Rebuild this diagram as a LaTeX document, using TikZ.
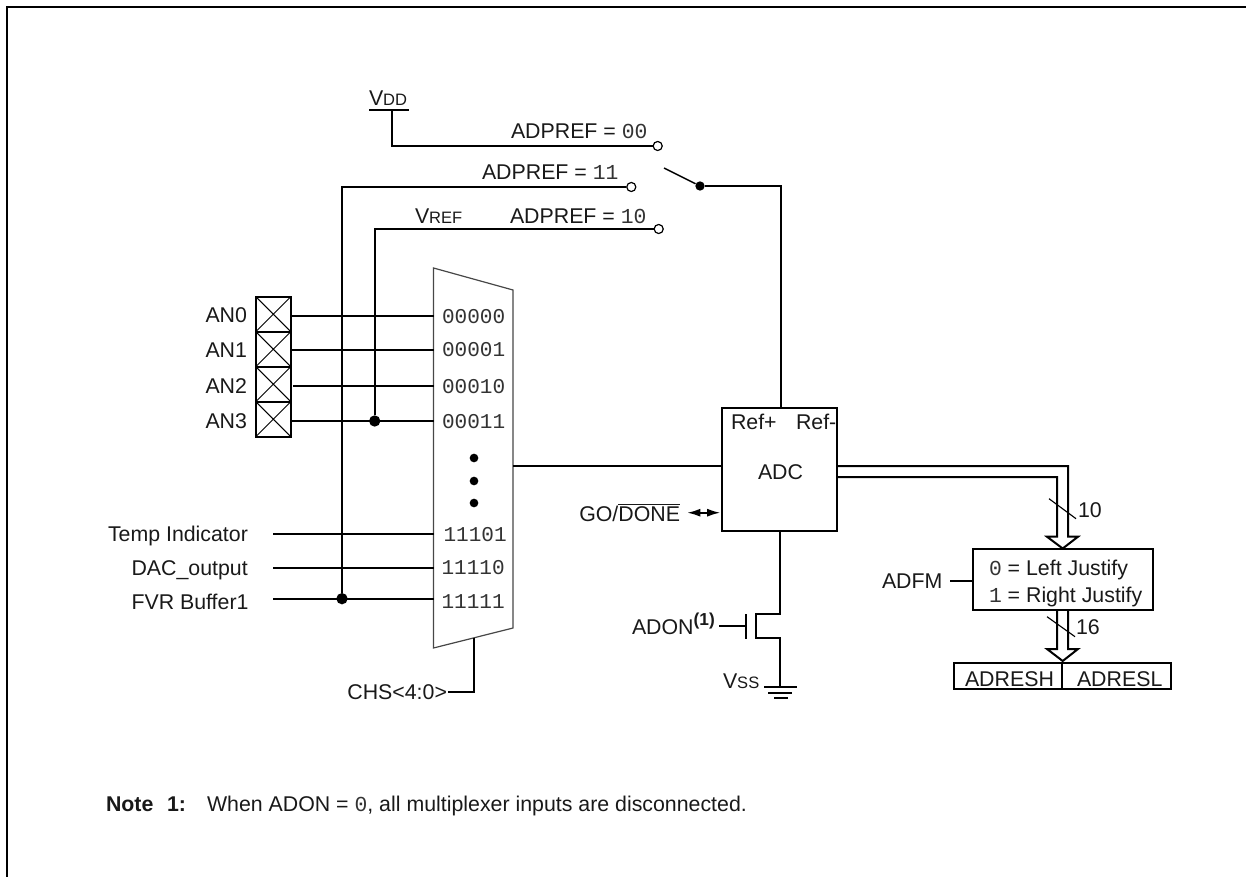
\documentclass[tikz,border=0pt]{standalone}
\usepackage{fontspec}
\setmainfont{Liberation Sans}
\newfontfamily\monoA{Liberation Mono}
\usetikzlibrary{arrows.meta}
\definecolor{muxgray}{gray}{0.28}
\definecolor{monogray}{gray}{0.2}
\tikzset{
  wire/.style={line width=1.5pt,line join=miter},
  thinw/.style={line width=0.75pt},
  lbl/.style={anchor=base west,inner sep=0pt,outer sep=0pt,yshift=-0.75pt,font=\fontsize{16}{18}\selectfont,text=black!90},
  lblr/.style={anchor=base east,inner sep=0pt,outer sep=0pt,yshift=-0.75pt,font=\fontsize{16}{18}\selectfont,text=black!90},
  code/.style={anchor=base west,inner sep=0pt,outer sep=0pt,font=\fontsize{15.8}{18}\monoA,text=monogray},
  term/.style={circle,draw,fill=white,line width=0.9pt,minimum size=6.8pt,inner sep=0pt},
  jdot/.style={circle,fill=black,minimum size=8.5pt,inner sep=0pt},
  swdot/.style={circle,fill=black,minimum size=7pt,inner sep=0pt},
  bigdot/.style={circle,fill=black,minimum size=6.5pt,inner sep=0pt},
  padbox/.style={draw,line width=1.5pt,minimum width=26.2pt,minimum height=26.2pt,inner sep=0pt,outer sep=0pt},
  blockbox/.style={draw,line width=1.5pt,inner sep=0pt,outer sep=0pt},
}
\newcommand{\sm}[1]{{\fontsize{12.4}{14}\selectfont #1}}
\begin{document}
\begin{tikzpicture}[x=0.75pt,y=-0.75pt]
\useasboundingbox (0,0) rectangle (1246,877);
% frame
\coordinate (fa) at (7,877); \coordinate (fb) at (7,7); \coordinate (fc) at (1246,7);
\draw[line width=1.5pt] (fa) -- (fb) -- (fc);

% supply labels and terminals
\node[lbl] (vdd) at (369,105) {V\sm{DD}};
\coordinate (vddL) at (369,110); \coordinate (vddR) at (409,110); \coordinate (vddT) at (392,110); \coordinate (vddB) at (392,146);
\draw[wire] (vddL) -- (vddR);
\node[term] (t00) at (657.7,146) {};
\node[term] (t11) at (631.3,187) {};
\node[term] (t10) at (658.7,229) {};
\draw[wire] (vddT) -- (vddB) -- (t00);
\node[lbl] (l00) at (511,138) {ADPREF = {\monoA\color{monogray}00}};
\node[lbl] (l11) at (482,179) {ADPREF = {\monoA\color{monogray}11}};
\node[lbl] (l10) at (510,223) {ADPREF = {\monoA\color{monogray}10}};
\node[lbl] (vref) at (415,223) {V\sm{REF}};

% switch
\coordinate (swTip) at (664,168);
\node[swdot] (swDot) at (700,186) {};
\draw[line width=1.1pt] (swTip) -- (swDot);

% ADC
\node[blockbox,minimum width=86.25pt,minimum height=92pt,anchor=north west] (adc) at (722,408) {};
\node[lbl] (refp) at (731,428) {Ref+};
\node[lbl] (refm) at (796,428) {Ref-};
\node[lbl] (adctxt) at (758,478) {ADC};
\coordinate (adcTop) at (781,408);
\draw[wire] (swDot) -- (781,186) -- (adcTop);

% pads
\foreach \n/\y/\lab/\by in {0/314.2/AN0/321.7,1/349.2/AN1/357,2/384.2/AN2/392,3/419.2/AN3/427}{
  \node[padbox] (pad\n) at (273.3,\y) {};
  \draw[thinw] (pad\n.north west) -- (pad\n.south east) (pad\n.north east) -- (pad\n.south west);
  \node[lbl] (an\n) at (205.5,\by) {\lab};
}

% mux
\coordinate (mA) at (433.5,268); \coordinate (mB) at (513,290); \coordinate (mC) at (513,628); \coordinate (mD) at (433.5,648);
\draw[line width=0.9pt,draw=muxgray,line join=miter] (mA) -- (mB) -- (mC) -- (mD) -- cycle;

% input lines
\coordinate (i0) at (434,315.7); \coordinate (i1) at (434,350); \coordinate (i2) at (434,386); \coordinate (i3) at (434,420.5);
\coordinate (s0) at (292,315.7); \coordinate (s1) at (292,350); \coordinate (s2) at (293,386); \coordinate (s3) at (292,420.5);
\foreach \k in {0,1,2,3}{\draw[wire] (s\k) -- (i\k);}
\coordinate (i4) at (434,534); \coordinate (i5) at (434,567.7); \coordinate (i6) at (434,598.7);
\coordinate (s4) at (273,534); \coordinate (s5) at (273,567.7); \coordinate (s6) at (273,598.7);
\foreach \k in {4,5,6}{\draw[wire] (s\k) -- (i\k);}
\node[lbl] (ti) at (108,540.7) {Temp Indicator};
\node[lbl] (dac) at (131.5,574) {DAC\_output};
\node[lbl] (fvr) at (131.5,608) {FVR Buffer1};

% mux codes
\node[code] (c0) at (442,324) {00000};
\node[code] (c1) at (442,357) {00001};
\node[code] (c2) at (442,393) {00010};
\node[code] (c3) at (442,428) {00011};
\node[code] (c4) at (443.5,541) {11101};
\node[code] (c5) at (441.5,574) {11110};
\node[code] (c6) at (441.5,608) {11111};
\node[bigdot] (d1) at (474,458) {};
\node[bigdot] (d2) at (474,481) {};
\node[bigdot] (d3) at (474,503) {};

% reference feed lines
\node[jdot] (j11) at (342,598.7) {};
\node[jdot] (j10) at (374.7,421) {};
\draw[wire] (j11) -- (342,187) -- (t11);
\draw[wire] (j10) -- (374.7,229) -- (t10);

% mux to ADC
\coordinate (mOut) at (513,466); \coordinate (aIn) at (722,466);
\draw[wire] (mOut) -- (aIn);

% CHS
\coordinate (chsT) at (474,638); \coordinate (chsC) at (474,692.4); \coordinate (chsE) at (448,692.4);
\draw[wire] (chsT) -- (chsC) -- (chsE);
\node[lblr] (chs) at (447,698) {CHS<4:0>};

% GO/DONE
\node[lblr] (go) at (680,520) {GO/\kern0pt\smash{$\overline{\hbox{DONE}}$}};
\coordinate (gA) at (687,512.7); \coordinate (gB) at (720.5,512.7);
\draw[line width=1.5pt,{Latex[length=10pt,width=6pt]}-{Latex[length=10pt,width=6pt]}] (gA) -- (gB);

% transistor
\coordinate (adcB) at (780,530.7); \coordinate (q1) at (780,613.5); \coordinate (q2) at (756,613.5);
\coordinate (q3) at (756,638); \coordinate (q4) at (780,638); \coordinate (q5) at (780,686.7);
\draw[wire] (adcB) -- (q1) -- (q2) -- (q3) -- (q4) -- (q5);
\coordinate (gT) at (746,614); \coordinate (gBm) at (746,639);
\draw[line width=1.3pt] (gT) -- (gBm);
\coordinate (g0) at (719,626); \coordinate (g1) at (746,626);
\draw[line width=1.3pt] (g0) -- (g1);
\node[lbl] (adon) at (632,633) {ADON\raisebox{0.42em}{\textbf{\fontsize{13}{15}\selectfont (1)}}};
\node[lbl] (vss) at (723,687) {V\sm{SS}};
\coordinate (g1a) at (764,686.7); \coordinate (g1b) at (797,686.7);
\coordinate (g2a) at (768,692.7); \coordinate (g2b) at (791.5,692.7);
\coordinate (g3a) at (774,697.7); \coordinate (g3b) at (787.5,697.7);
\draw[wire] (g1a) -- (g1b) (g2a) -- (g2b) (g3a) -- (g3b);

% justify box
\node[blockbox,minimum width=135.3pt,minimum height=45.75pt,anchor=north west] (just) at (972.7,549) {};
\node[lbl] (j0) at (989,574) {{\monoA\color{monogray}0} = Left Justify};
\node[lbl] (j1) at (989,601) {{\monoA\color{monogray}1} = Right Justify};
\node[lbl] (adfm) at (882,587.7) {ADFM};
\coordinate (fmA) at (950,581); \coordinate (fmB) at (972.7,581);
\draw[wire] (fmA) -- (fmB);

% bus 10
\coordinate (b1) at (837,466); \coordinate (b2) at (1068,466); \coordinate (b3) at (1068,536.7);
\coordinate (b4) at (1078,536.7); \coordinate (b5) at (1062.7,548.5); \coordinate (b6) at (1047,536.7);
\coordinate (b7) at (1057,536.7); \coordinate (b8) at (1057,477); \coordinate (b9) at (837,477);
\draw[wire] (b1) -- (b2) -- (b3) -- (b4) -- (b5) -- (b6) -- (b7) -- (b8) -- (b9);
\coordinate (sa) at (1049,498.7); \coordinate (sb) at (1076,518.7);
\draw[line width=0.85pt] (sa) -- (sb);
\node[lbl] (n10) at (1078,516) {10};

% bus 16
\coordinate (e1) at (1068,610); \coordinate (e2) at (1068,649); \coordinate (e3) at (1078,649);
\coordinate (e4) at (1062.7,661); \coordinate (e5) at (1047,649); \coordinate (e6) at (1057,649); \coordinate (e7) at (1057,610);
\draw[wire] (e1) -- (e2) -- (e3) -- (e4) -- (e5) -- (e6) -- (e7);
\coordinate (ta) at (1047,616.7); \coordinate (tb) at (1075,636.7);
\draw[line width=0.85pt] (ta) -- (tb);
\node[lbl] (n16) at (1076,633) {16};

% result registers
\node[blockbox,minimum width=81pt,minimum height=20pt,anchor=north west] (adresh) at (954,662.7) {};
\node[blockbox,minimum width=81.75pt,minimum height=20pt,anchor=north west] (adresl) at (1062,662.7) {};
\node[lbl] (th) at (965,685) {ADRESH};
\node[lbl] (tl) at (1077,685) {ADRESL};

% note
\node[lbl] (note) at (106,810.7) {\textbf{Note}};
\node[lbl] (note1) at (167,810.7) {\textbf{1:}};
\node[lbl] (notetxt) at (207,810.7) {When ADON = {\monoA\color{monogray}0}, all multiplexer inputs are disconnected.};
\end{tikzpicture}
\end{document}
